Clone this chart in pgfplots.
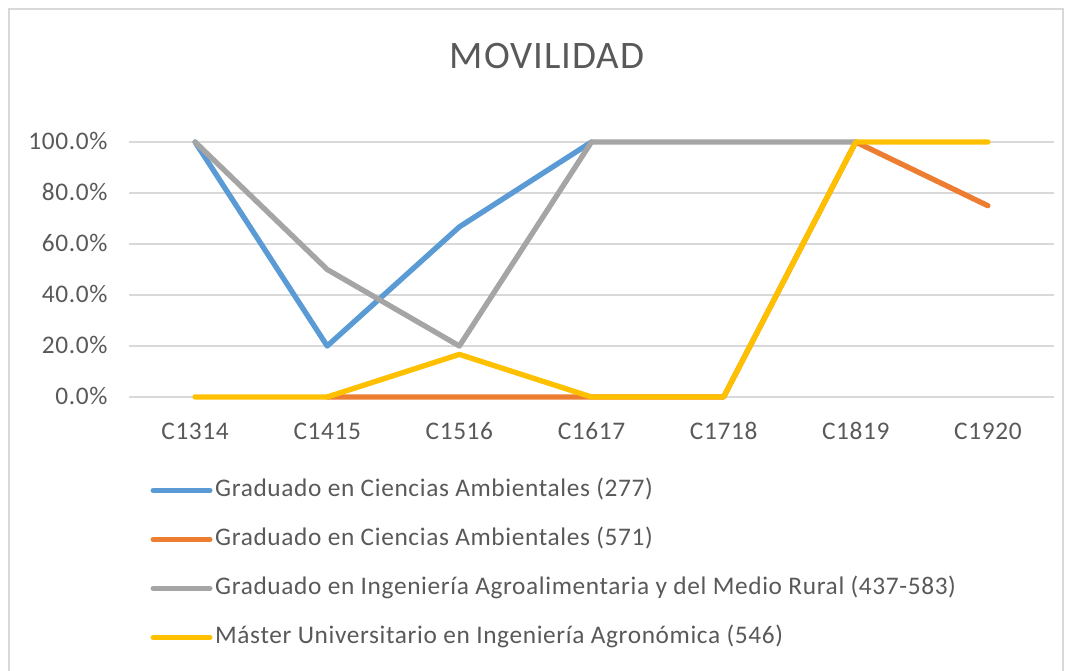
\documentclass[border=0pt]{standalone}
\usepackage{fontspec}
\setmainfont{Carlito}[LetterSpace=2.5]
\usepackage{pgfplots}
\pgfplotsset{compat=1.18}

\definecolor{cblue}{HTML}{5B9BD5}
\definecolor{corange}{HTML}{ED7D31}
\definecolor{cgray}{HTML}{A5A5A5}
\definecolor{cyellow}{HTML}{FFC000}
\definecolor{txt}{HTML}{595959}
\definecolor{gridc}{HTML}{D9D9D9}

\begin{document}
\begin{tikzpicture}
% picture frame: 1073x671 px at 0.375pt per px
\useasboundingbox (0,0) rectangle (402.375pt,251.625pt);
\draw[gridc, line width=0.75pt] (3.2pt,-2pt) -- (3.2pt,248.3pt) -- (398.8pt,248.3pt) -- (398.8pt,-2pt);
\node[anchor=base, text=txt, font=\fontsize{14.6}{16}\selectfont, inner sep=0pt] at (205.1pt,226.1pt) {MOVILIDAD};

\begin{axis}[
  at={(48.375pt,102.75pt)}, anchor=south west,
  scale only axis,
  width=346.875pt, height=95.625pt,
  xmin=-0.5, xmax=6.5,
  ymin=0, ymax=100,
  axis line style={draw=none},
  clip=false,
  xtick={0,1,2,3,4,5,6},
  xticklabels={C1314,C1415,C1516,C1617,C1718,C1819,C1920},
  ytick={0,20,40,60,80,100},
  yticklabels={0.0\%,20.0\%,40.0\%,60.0\%,80.0\%,100.0\%},
  major tick length=0pt,
  ymajorgrids,
  grid style={gridc, line width=0.75pt},
  xticklabel style={anchor=base, inner sep=0pt, yshift=-16.1pt},
  yticklabel style={anchor=base east, inner sep=0pt, xshift=-7.9pt, yshift=-2.9pt},
  tick label style={font=\fontsize{9.5}{11}\selectfont, text=txt},
  legend style={draw=none, fill=none, inner sep=0pt, column sep=1pt, row sep=10.375pt,
    at={(axis description cs:0.0227,-0.3229)}, anchor=north west,
    font=\fontsize{9.5}{11}\selectfont, text=txt,
    nodes={inner sep=0pt, text height=6.3pt, text depth=1.7pt}},
  legend cell align=left,
  legend image code/.code={\draw[#1] (0pt,0pt) -- (21.25pt,0pt);},
  every axis plot/.append style={line width=2pt, line cap=round, line join=round},
]
\addplot[cblue] coordinates {(0,100) (1,20) (2,66.7) (3,100)};
\addlegendentry{Graduado en Ciencias Ambientales (277)}
\addplot[corange] coordinates {(1,0) (2,0) (3,0) (4,0) (5,100) (6,75)};
\addlegendentry{Graduado en Ciencias Ambientales (571)}
\addplot[cgray] coordinates {(0,100) (1,50) (2,20) (3,100) (4,100) (5,100)};
\addlegendentry{Graduado en Ingeniería Agroalimentaria y del Medio Rural (437-583)}
\addplot[cyellow] coordinates {(0,0) (1,0) (2,16.7) (3,0) (4,0) (5,100) (6,100)};
\addlegendentry{Máster Universitario en Ingeniería Agronómica (546)}
\end{axis}
\end{tikzpicture}
\end{document}
